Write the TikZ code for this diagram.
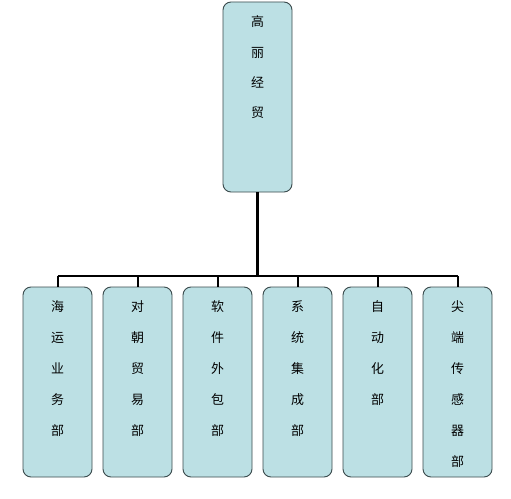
\documentclass[tikz,border=0pt]{standalone}
\usepackage{fontspec}
\newfontfamily\cjk{Noto Sans CJK SC}
\definecolor{boxfill}{HTML}{BCE0E4}
\definecolor{boxline}{HTML}{3A4A4C}
\begin{document}
\begin{tikzpicture}[x=1bp,y=-1bp,
  orgbox/.style={draw=boxline, line width=0.9bp, fill=boxfill, rounded corners=8bp,
    minimum width=69bp, minimum height=190bp, inner sep=0pt},
  toptxt/.style={anchor=north, inner sep=0pt, align=center, font=\cjk\fontsize{13}{30.5}\selectfont},
  subtxt/.style={anchor=north, inner sep=0pt, align=center, font=\cjk\fontsize{13}{31}\selectfont},
  trunk/.style={line width=3bp},
  bar/.style={line width=2.4bp},
  drop/.style={line width=2bp}]
\useasboundingbox (0,0) rectangle (511,499);
\node[orgbox] (top) at (257.5,97) {};
\node[toptxt] (toptext) at (257.5,15.5) {高\\丽\\经\\贸};
\foreach \i/\t in {1/{海\\运\\业\\务\\部},2/{对\\朝\\贸\\易\\部},3/{软\\件\\外\\包\\部},4/{系\\统\\集\\成\\部},5/{自\\动\\化\\部},6/{尖\\端\\传\\感\\器\\部}}{
  \node[orgbox] (b\i) at ({57.5+80*(\i-1)},382) {};
  \node[subtxt] (t\i) at ({57.5+80*(\i-1)},300.5) {\t};
}
\coordinate (bus) at (257.5,276);
\draw[trunk] (top.south) -- (bus);
\draw[bar] (b1.north |- bus) -- (b6.north |- bus);
\foreach \i in {1,...,6}{
  \draw[drop] (b\i.north |- bus) -- (b\i.north);
}
\end{tikzpicture}
\end{document}
